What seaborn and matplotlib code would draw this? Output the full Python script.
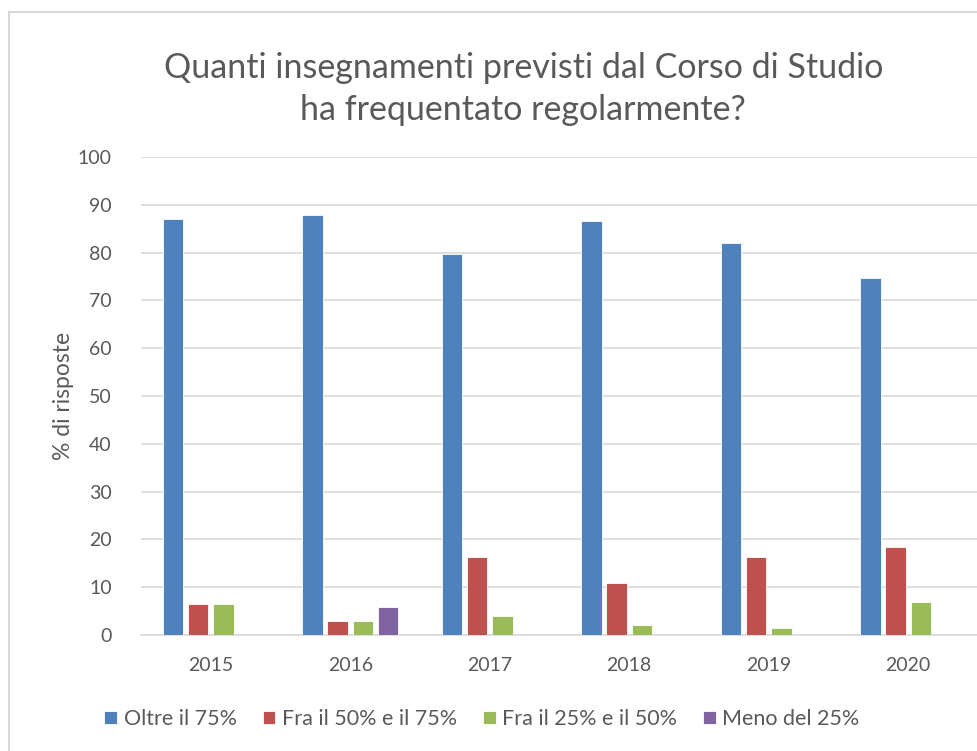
import numpy as np
import pandas as pd
import matplotlib
matplotlib.use("Agg")
import matplotlib.pyplot as plt
import seaborn as sns
from matplotlib.patches import Rectangle

# dati
anni = ["2015", "2016", "2017", "2018", "2019", "2020"]
oltre_75 = [87.1, 87.9, 79.8, 86.6, 82.0, 74.6]
fra_50_75 = [6.4, 2.9, 16.4, 10.9, 16.4, 18.5]
fra_25_50 = [6.4, 2.9, 3.9, 2.0, 1.5, 6.9]
meno_25 = [0.0, 5.8, 0.0, 0.0, 0.0, 0.0]
serie = ["Oltre il 75%", "Fra il 50% e il 75%", "Fra il 25% e il 50%", "Meno del 25%"]
colori = ["#4F81BD", "#C0504D", "#9BBB59", "#8064A2"]

df = pd.DataFrame({
    "anno": anni * 4,
    "serie": np.repeat(serie, len(anni)),
    "valore": oltre_75 + fra_50_75 + fra_25_50 + meno_25,
})

sns.set_theme(style="white")
plt.rcParams["font.family"] = ["Lato", "DejaVu Sans"]
grigio = "#595959"

fig = plt.figure(figsize=(9.78, 7.51), dpi=100)
ax = fig.add_axes([141 / 978, 1 - 635 / 751, (978 - 141) / 978, (635 - 157) / 751])

sns.barplot(data=df, x="anno", y="valore", hue="serie", hue_order=serie,
            palette=colori, saturation=1, width=0.72, gap=0.18, ax=ax,
            edgecolor="white", linewidth=0.6, legend=True, zorder=3)

ax.set_ylim(0, 100)
ax.set_xlim(-0.5, 5.5)
ax.set_yticks(range(0, 101, 10))
ax.yaxis.grid(True, color="#D9D9D9", linewidth=1.2, zorder=0)
ax.xaxis.grid(False)
for s in ["top", "right", "left"]:
    ax.spines[s].set_visible(False)
ax.spines["bottom"].set_color("#D9D9D9")
ax.spines["bottom"].set_linewidth(1.2)
ax.tick_params(axis="both", length=0, labelsize=14, colors=grigio)
ax.tick_params(axis="y", pad=21)
ax.tick_params(axis="x", pad=16)
ax.set_xlabel("")
ax.set_ylabel("% di risposte", fontsize=16.5, color=grigio, labelpad=3)

fig.text(0.535, 1 - 89 / 751, "Quanti insegnamenti previsti dal Corso di Studio\nha frequentato regolarmente?",
         ha="center", va="center", fontsize=24.5, color=grigio, linespacing=1.35)

ax.legend(loc="center", bbox_to_anchor=(482 / 978, 1 - 719 / 751), bbox_transform=fig.transFigure,
          ncol=4, frameon=False, fontsize=15.5, handlelength=0.6, handleheight=0.6,
          handletextpad=0.3, columnspacing=1.2, labelcolor=grigio)

# cornice del grafico
fig.patches.append(Rectangle((9 / 978, -0.1), 1.2, 1 - 12 / 751 + 0.1, transform=fig.transFigure,
                             fill=False, edgecolor="#D9D9D9", linewidth=1.5))

fig.savefig("out.png", dpi=100)
